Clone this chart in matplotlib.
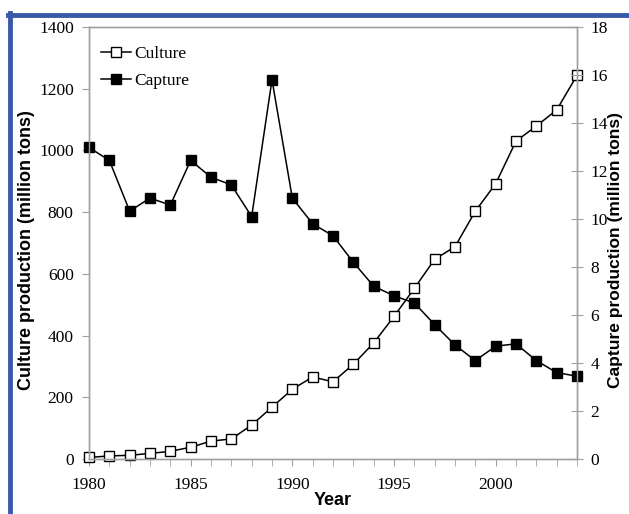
import numpy as np
import matplotlib
matplotlib.use("Agg")
import matplotlib.pyplot as plt
from matplotlib.lines import Line2D
from matplotlib.ticker import MultipleLocator

years = list(range(1980, 2005))
# culture production (left axis, million tons)
culture = [5, 10, 12, 18, 25, 38, 58, 65, 110, 168, 226, 266, 250, 307, 376,
           462, 553, 647, 688, 803, 892, 1030, 1079, 1131, 1243]
# capture production (right axis, million tons)
capture = [12.98, 12.44, 10.33, 10.87, 10.58, 12.44, 11.74, 11.42, 10.1, 15.8,
           10.87, 9.8, 9.3, 8.2, 7.2, 6.8, 6.5, 5.6, 4.75, 4.1,
           4.7, 4.8, 4.1, 3.6, 3.45]

serif = "Liberation Serif"
sans = "Liberation Sans"
grey = "#a0a0a0"

fig = plt.figure(figsize=(6.29, 5.14), dpi=100)
ax = fig.add_axes([0.1415, 0.107, 0.7758, 0.8405])
ax2 = ax.twinx()

l1, = ax.plot(years, culture, "-s", color="black", lw=1.1, ms=7,
              mfc="white", mec="black", mew=1.0, label="Culture", clip_on=False)
l2, = ax2.plot(years, capture, "-s", color="black", lw=1.1, ms=7,
               mfc="black", mec="black", label="Capture", clip_on=False)

ax.set_xlim(1980, 2004)
ax.set_ylim(0, 1400)
ax2.set_ylim(0, 18)
ax.yaxis.set_major_locator(MultipleLocator(200))
ax2.yaxis.set_major_locator(MultipleLocator(2))
ax.xaxis.set_major_locator(MultipleLocator(5))
ax.xaxis.set_minor_locator(MultipleLocator(1))

for a in (ax, ax2):
    for s in a.spines.values():
        s.set_color(grey)
        s.set_linewidth(1.0)
    for lab in a.get_xticklabels() + a.get_yticklabels():
        lab.set_fontfamily(serif)
        lab.set_fontsize(12.5)

ax.tick_params(axis="y", direction="out", length=5, color=grey, pad=6)
ax.tick_params(axis="x", which="major", direction="out", length=5, color=grey, pad=8)
ax.tick_params(axis="x", which="minor", direction="out", length=5, color=grey)
ax2.tick_params(axis="y", direction="inout", length=9, color=grey, pad=5)

ax.set_xlabel("Year", fontfamily=sans, fontweight="bold", fontsize=13, labelpad=-1)
ax.set_ylabel("Culture production (million tons)", fontfamily=sans,
              fontweight="bold", fontsize=13, labelpad=3)
ax.yaxis.label.set_y(0.484)
ax2.set_ylabel("Capture production (million tons)", fontfamily=sans,
               fontweight="bold", fontsize=12.5, labelpad=0)
ax2.yaxis.label.set_y(0.484)

ax.legend(handles=[l1, l2], loc="upper left", frameon=False,
          prop={"family": serif, "size": 12.5}, handlelength=1.7,
          handletextpad=0.2, borderaxespad=0.3, labelspacing=0.65,
          bbox_to_anchor=(0.0, 0.985))

# blue frame around the figure (top and left edges)
blue = "#3a5aa8"
fig.add_artist(Line2D([8 / 629, 1.0], [1 - 15 / 514, 1 - 15 / 514],
                      transform=fig.transFigure, color=blue, lw=3.5))
fig.add_artist(Line2D([10 / 629, 10 / 629], [0.0, 1 - 13 / 514],
                      transform=fig.transFigure, color=blue, lw=3.5))

fig.savefig("out.png", dpi=100)
